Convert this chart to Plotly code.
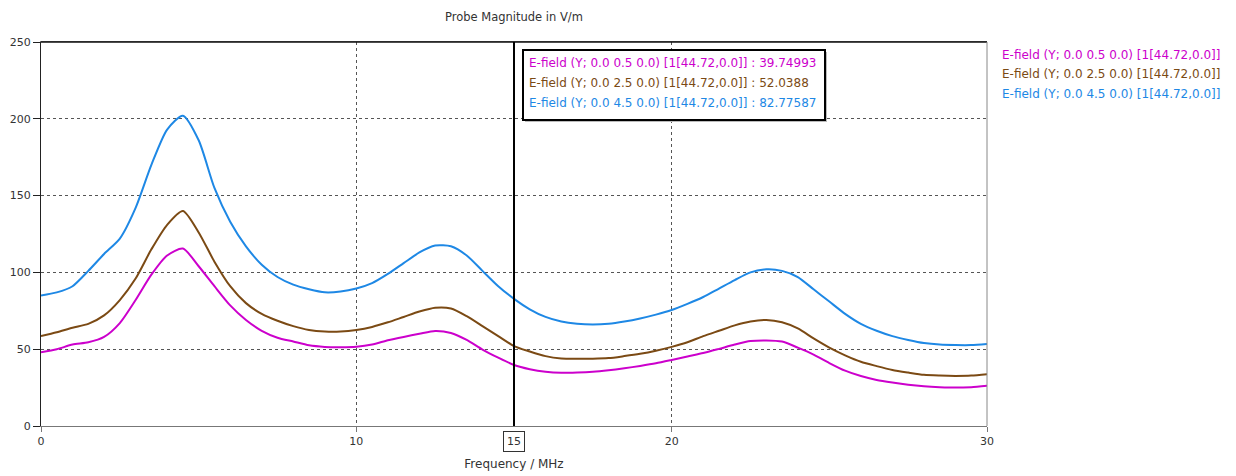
import plotly.graph_objects as go

# ---------------- data ----------------
freq = [i * 0.5 for i in range(61)]  # 0 .. 30 MHz

series_names = [
    "E-field (Y; 0.0 0.5 0.0) [1[44.72,0.0]]",
    "E-field (Y; 0.0 2.5 0.0) [1[44.72,0.0]]",
    "E-field (Y; 0.0 4.5 0.0) [1[44.72,0.0]]",
]
series_colors = ["#CC00CC", "#7B4A14", "#1E88E5"]

efield_y05 = [48, 50, 53, 54.5, 58, 67, 82, 98.5, 111, 115.5, 104, 91, 78.5, 69, 62,
              57.5, 55, 52.5, 51.5, 51.3, 51.6, 53, 55.8, 58, 60, 61.8, 60.5, 56, 49.8,
              44.5, 39.75, 37, 35.3, 34.6, 34.8, 35.3, 36.3, 37.6, 39.1, 40.8, 43, 45.3,
              47.5, 50.2, 53, 55.3, 55.7, 55, 51, 46.5, 41, 36, 32.5, 30, 28.3, 26.9,
              25.9, 25.3, 25, 25.3, 26.2]
efield_y25 = [58.5, 61, 64, 66.5, 72, 82, 96, 115, 131, 140, 126, 107, 91, 80, 73,
              68.5, 65, 62.5, 61.5, 61.5, 62.5, 64.5, 67.5, 71, 74.5, 77, 76.5, 71.5, 65,
              58.5, 52.04, 48.5, 45.5, 44, 43.8, 43.8, 44.2, 45.5, 47, 49, 51.5, 54.5,
              58.5, 62, 65.5, 68, 69, 67.5, 63.5, 57, 51, 46, 41.8, 39, 36.5, 34.8,
              33.3, 32.8, 32.6, 32.8, 33.7]
efield_y45 = [85, 87, 91, 101, 112, 122, 142, 170, 193, 202, 186, 155, 133, 117, 105,
              97, 92, 89, 87, 87.5, 89.5, 93, 99, 106, 113, 117.5, 117, 111, 101,
              91, 82.78, 76, 71, 68, 66.5, 66, 66.5, 68, 70, 72.5, 75.5, 79.5,
              84, 89.5, 95, 100, 102, 101, 97, 89, 81, 73, 66.5, 62, 58.5, 56,
              54, 53, 52.7, 52.7, 53.4]
series_values = [efield_y05, efield_y25, efield_y45]

cursor_x = 15
cursor_values = ["39.74993", "52.0388", "82.77587"]

x_ticks = [0, 10, 20, 30]
y_ticks = [0, 50, 100, 150, 200, 250]

title_text = "Probe Magnitude in V/m"
x_title = "Frequency / MHz"

FONT = "DejaVu Sans"

# ---------------- figure ----------------
fig = go.Figure()
for name, vals, col in zip(series_names, series_values, series_colors):
    fig.add_trace(go.Scatter(x=freq, y=vals, mode="lines", name=name,
                             line=dict(color=col, width=2, shape="spline", smoothing=0.7),
                             showlegend=False))

# page body has an 8px margin; compensate so the plot lands where the reference has it
OFF = 8
W, H = 1236 - OFF, 476 - OFF
L, T = 41 - OFF, 42 - OFF
pw, ph = 946, 384
R = W - L - pw
B = H - T - ph


def px_x(p):  # screen px -> paper
    return (p - OFF - L) / pw


def px_y(p):
    return (T + ph - (p - OFF)) / ph


fig.update_layout(
    width=W, height=H,
    margin=dict(l=L, r=R, t=T, b=B, pad=0),
    paper_bgcolor="white", plot_bgcolor="white",
    font=dict(family=FONT, size=11, color="#333333"),
    showlegend=False,
    xaxis=dict(range=[0, 30], tickvals=x_ticks, ticks="outside", ticklen=5,
               tickcolor="#777777", showline=True, linecolor="#777777", linewidth=1,
               mirror=True, showgrid=True, gridcolor="#555555", griddash="dot",
               gridwidth=1, zeroline=False, tickfont=dict(size=11, color="#333333"),
               title=dict(text=x_title, font=dict(size=12, color="#333333"), standoff=12),
               automargin=False, fixedrange=True),
    yaxis=dict(range=[0, 250], tickvals=y_ticks, ticks="outside", ticklen=7,
               tickcolor="#222222", showline=True, linecolor="#222222", linewidth=1,
               mirror=False, showgrid=True, gridcolor="#555555", griddash="dot",
               gridwidth=1, zeroline=False, tickfont=dict(size=11, color="#333333"),
               automargin=False, fixedrange=True),
)

shapes = []
# top border (black) and right border (gray)
shapes.append(dict(type="line", xref="paper", yref="paper", x0=0, x1=1, y0=1, y1=1,
                   line=dict(color="#111111", width=1.5)))
shapes.append(dict(type="line", xref="paper", yref="paper", x0=1, x1=1, y0=0, y1=1,
                   line=dict(color="#888888", width=1)))
# cursor line
shapes.append(dict(type="line", xref="x", yref="paper", x0=cursor_x, x1=cursor_x,
                   y0=0, y1=1, line=dict(color="#000000", width=2)))
# tooltip box with shadow
bx0, bx1, by0, by1 = px_x(523), px_x(825), px_y(120), px_y(50)
sx, sy = 2 / pw, 2 / ph
shapes.append(dict(type="rect", xref="paper", yref="paper", x0=bx0 + sx, x1=bx1 + sx,
                   y0=by0 - sy, y1=by1 - sy, line=dict(width=0), fillcolor="#BBBBBB"))
shapes.append(dict(type="rect", xref="paper", yref="paper", x0=bx0, x1=bx1,
                   y0=by0, y1=by1, line=dict(color="#000000", width=2), fillcolor="white"))
fig.update_layout(shapes=shapes)

ann = []
# title
ann.append(dict(text=title_text, xref="paper", yref="paper", x=0.5, y=px_y(17),
                xanchor="center", yanchor="middle", showarrow=False,
                font=dict(family=FONT, size=11.5, color="#333333")))
# cursor tick label
ann.append(dict(text=str(cursor_x), xref="x", yref="paper", x=cursor_x, y=px_y(441),
                xanchor="center", yanchor="middle", showarrow=False,
                bordercolor="#333333", borderwidth=1, borderpad=3, bgcolor="white",
                font=dict(family=FONT, size=11, color="#333333")))
# tooltip lines
tip_y = [63, 83, 103]
for name, val, col, yy in zip(series_names, cursor_values, series_colors, tip_y):
    ann.append(dict(text=f"{name} : {val}", xref="paper", yref="paper",
                    x=px_x(527), y=px_y(yy), xanchor="left", yanchor="middle",
                    showarrow=False, font=dict(family=FONT, size=12, color=col)))
# legend lines (text only)
leg_y = [55, 74, 94]
for name, col, yy in zip(series_names, series_colors, leg_y):
    ann.append(dict(text=name, xref="paper", yref="paper",
                    x=px_x(1000), y=px_y(yy), xanchor="left", yanchor="middle",
                    showarrow=False, font=dict(family=FONT, size=12, color=col)))
fig.update_layout(annotations=ann)

fig.write_html("out.html")
